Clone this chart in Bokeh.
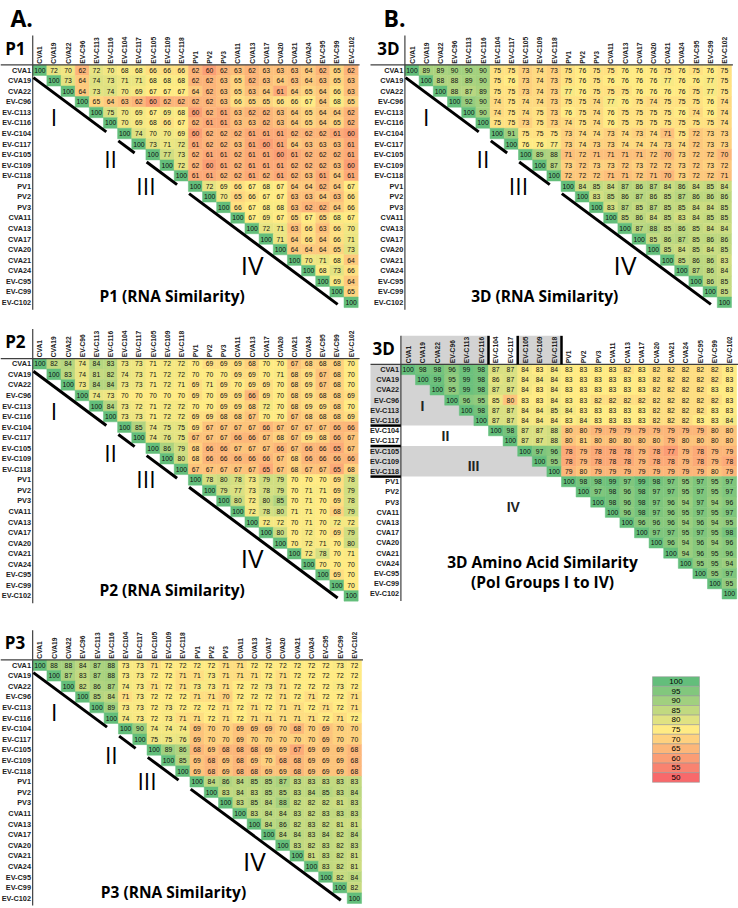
import math
import numpy as np
from bokeh.plotting import figure
from bokeh.models import Range1d
from bokeh.embed import file_html
from bokeh.resources import INLINE
from bokeh.core.properties import value

W, H = 738, 908

VIRUSES = ["CVA1", "CVA19", "CVA22", "EV-C96", "EV-C113", "EV-C116", "EV-C104", "EV-C117",
           "EV-C105", "EV-C109", "EV-C118", "PV1", "PV2", "PV3", "CVA11", "CVA13", "CVA17",
           "CVA20", "CVA21", "CVA24", "EV-C95", "EV-C99", "EV-C102"]
GROUP_NAMES = ["I", "II", "III", "IV"]
GROUP_FIRST = [0, 6, 8, 11]
GROUP_LAST = [5, 7, 10, 22]

P1_ROWS = [
    [100, 72, 70, 62, 72, 70, 68, 68, 66, 66, 66, 62, 60, 62, 63, 62, 63, 63, 63, 64, 62, 65, 62],
    [100, 73, 64, 74, 73, 71, 71, 68, 68, 68, 62, 62, 63, 65, 62, 63, 64, 63, 64, 63, 65, 63],
    [100, 64, 73, 74, 70, 69, 67, 67, 67, 64, 62, 63, 65, 63, 64, 61, 64, 65, 64, 66, 63],
    [100, 65, 64, 63, 62, 60, 62, 62, 62, 62, 63, 66, 65, 65, 66, 66, 67, 64, 68, 65],
    [100, 75, 70, 69, 67, 69, 68, 60, 62, 61, 63, 62, 62, 63, 64, 65, 64, 64, 62],
    [100, 70, 69, 68, 66, 67, 62, 61, 61, 63, 63, 62, 63, 64, 65, 64, 65, 62],
    [100, 74, 70, 70, 69, 60, 62, 62, 62, 61, 61, 61, 62, 62, 62, 61, 60],
    [100, 73, 71, 72, 61, 62, 62, 63, 61, 60, 61, 64, 63, 63, 63, 61],
    [100, 77, 73, 62, 61, 61, 62, 61, 61, 60, 61, 62, 62, 62, 61],
    [100, 72, 62, 60, 61, 62, 61, 61, 61, 62, 62, 62, 63, 60],
    [100, 61, 61, 62, 62, 61, 62, 61, 62, 63, 61, 64, 61],
    [100, 72, 69, 66, 67, 68, 67, 64, 64, 62, 64, 67],
    [100, 70, 65, 66, 67, 67, 63, 63, 64, 63, 66],
    [100, 66, 67, 68, 68, 63, 62, 62, 64, 66],
    [100, 67, 69, 67, 65, 67, 65, 68, 67],
    [100, 72, 71, 63, 66, 63, 66, 70],
    [100, 71, 64, 66, 64, 66, 71],
    [100, 64, 64, 64, 65, 73],
    [100, 70, 71, 68, 64],
    [100, 68, 73, 66],
    [100, 69, 64],
    [100, 65],
    [100],
]

D3_RNA_ROWS = [
    [100, 89, 89, 90, 90, 90, 75, 75, 73, 74, 73, 75, 76, 75, 75, 76, 76, 76, 75, 76, 75, 76, 75],
    [100, 88, 88, 89, 90, 75, 76, 73, 74, 73, 75, 76, 75, 76, 76, 76, 76, 77, 76, 76, 77, 75],
    [100, 88, 87, 89, 75, 75, 73, 74, 73, 77, 76, 75, 75, 75, 76, 76, 76, 76, 75, 77, 75],
    [100, 92, 90, 74, 75, 74, 74, 73, 75, 75, 74, 77, 76, 75, 74, 75, 75, 75, 76, 74],
    [100, 90, 74, 75, 74, 75, 73, 76, 75, 74, 76, 75, 75, 75, 75, 76, 74, 76, 74],
    [100, 75, 75, 73, 75, 73, 74, 75, 74, 76, 75, 75, 75, 75, 75, 75, 75, 74],
    [100, 91, 75, 75, 75, 73, 74, 74, 73, 74, 73, 74, 71, 75, 72, 73, 73],
    [100, 76, 76, 77, 73, 74, 73, 73, 74, 74, 74, 73, 74, 72, 73, 73],
    [100, 89, 88, 71, 72, 71, 71, 71, 71, 72, 70, 73, 72, 72, 70],
    [100, 87, 73, 72, 73, 73, 72, 73, 72, 72, 73, 72, 73, 72],
    [100, 72, 72, 72, 71, 71, 72, 71, 70, 73, 72, 72, 71],
    [100, 84, 85, 84, 87, 86, 87, 84, 86, 84, 85, 84],
    [100, 83, 85, 86, 87, 86, 85, 87, 86, 86, 86],
    [100, 83, 87, 85, 87, 85, 85, 84, 84, 85],
    [100, 85, 86, 84, 85, 83, 84, 85, 85],
    [100, 87, 88, 85, 86, 85, 84, 84],
    [100, 85, 86, 87, 85, 86, 86],
    [100, 85, 84, 85, 84, 85],
    [100, 85, 86, 86, 83],
    [100, 87, 86, 84],
    [100, 86, 85],
    [100, 85],
    [100],
]

P2_ROWS = [
    [100, 82, 84, 74, 84, 83, 73, 73, 71, 72, 72, 70, 69, 69, 69, 68, 70, 70, 67, 68, 68, 68, 70],
    [100, 83, 74, 81, 82, 74, 73, 71, 72, 72, 70, 70, 70, 69, 69, 70, 71, 68, 69, 67, 68, 70],
    [100, 73, 84, 84, 73, 73, 71, 72, 71, 69, 71, 69, 70, 69, 69, 70, 68, 69, 67, 68, 70],
    [100, 74, 73, 70, 70, 70, 70, 70, 69, 70, 69, 69, 66, 69, 70, 68, 69, 68, 68, 69],
    [100, 84, 73, 72, 71, 72, 72, 70, 70, 69, 69, 68, 72, 70, 68, 69, 69, 68, 70],
    [100, 73, 73, 71, 72, 72, 69, 69, 68, 68, 67, 70, 70, 67, 68, 68, 68, 69],
    [100, 85, 74, 75, 75, 69, 67, 67, 67, 67, 66, 67, 67, 67, 67, 66, 66],
    [100, 74, 76, 75, 67, 67, 67, 66, 66, 67, 68, 67, 69, 68, 66, 67],
    [100, 86, 79, 68, 66, 66, 67, 67, 67, 66, 67, 66, 66, 65, 67],
    [100, 80, 68, 66, 66, 66, 66, 66, 67, 68, 66, 66, 66, 66],
    [100, 67, 67, 67, 67, 67, 65, 67, 68, 67, 67, 65, 68],
    [100, 78, 80, 78, 73, 79, 79, 70, 70, 70, 69, 78],
    [100, 79, 77, 73, 78, 79, 70, 71, 71, 69, 79],
    [100, 80, 72, 80, 85, 70, 71, 70, 69, 78],
    [100, 72, 78, 80, 71, 71, 70, 68, 79],
    [100, 72, 72, 70, 71, 70, 72, 72],
    [100, 80, 70, 72, 70, 69, 79],
    [100, 70, 72, 71, 70, 80],
    [100, 72, 78, 70, 71],
    [100, 70, 70, 70],
    [100, 69, 70],
    [100, 70],
    [100],
]

D3_AA_ROWS = [
    [100, 98, 98, 96, 99, 98, 87, 87, 84, 83, 84, 83, 83, 83, 83, 82, 83, 82, 82, 82, 82, 82, 83],
    [100, 99, 95, 99, 98, 86, 87, 84, 84, 84, 83, 83, 83, 83, 83, 83, 82, 82, 82, 82, 82, 83],
    [100, 95, 99, 98, 87, 87, 84, 83, 84, 83, 83, 83, 83, 83, 83, 82, 82, 82, 82, 83, 83],
    [100, 96, 95, 85, 80, 83, 83, 84, 83, 83, 82, 82, 82, 82, 82, 82, 82, 82, 82, 83],
    [100, 98, 87, 87, 84, 84, 85, 84, 83, 83, 83, 83, 83, 82, 82, 82, 82, 83, 83],
    [100, 87, 87, 84, 84, 84, 83, 84, 83, 83, 83, 83, 82, 82, 82, 83, 83, 84],
    [100, 98, 87, 87, 88, 80, 80, 79, 79, 79, 79, 79, 79, 79, 79, 80, 80],
    [100, 87, 87, 88, 80, 81, 80, 80, 80, 80, 80, 79, 80, 80, 80, 80],
    [100, 97, 96, 78, 79, 78, 78, 78, 79, 78, 77, 79, 78, 79, 79],
    [100, 95, 78, 79, 78, 78, 78, 79, 78, 78, 79, 78, 79, 78],
    [100, 79, 80, 79, 79, 79, 79, 79, 79, 79, 79, 80, 79],
    [100, 98, 98, 99, 97, 99, 98, 97, 95, 97, 95, 97],
    [100, 97, 98, 96, 98, 97, 97, 95, 97, 95, 97],
    [100, 98, 96, 98, 97, 96, 94, 97, 94, 96],
    [100, 96, 98, 97, 96, 95, 97, 95, 97],
    [100, 96, 96, 96, 94, 96, 94, 95],
    [100, 97, 97, 95, 97, 95, 98],
    [100, 96, 94, 96, 94, 96],
    [100, 94, 96, 95, 96],
    [100, 95, 95, 94],
    [100, 95, 97],
    [100, 95],
    [100],
]

P3_ROWS = [
    [100, 88, 88, 84, 87, 88, 73, 73, 71, 72, 72, 72, 72, 71, 71, 72, 72, 72, 72, 72, 72, 73, 72],
    [100, 87, 83, 87, 88, 73, 73, 72, 72, 71, 71, 73, 71, 71, 71, 72, 71, 72, 72, 72, 72, 72],
    [100, 82, 86, 87, 74, 73, 71, 72, 71, 73, 73, 71, 72, 72, 73, 71, 72, 72, 72, 73, 72],
    [100, 85, 84, 71, 73, 72, 72, 72, 71, 71, 70, 72, 72, 72, 71, 72, 71, 72, 72, 71],
    [100, 89, 73, 73, 72, 73, 72, 72, 72, 71, 72, 71, 72, 71, 71, 72, 71, 72, 71],
    [100, 74, 73, 72, 73, 71, 71, 72, 71, 72, 71, 71, 71, 71, 71, 72, 71, 72],
    [100, 90, 74, 74, 74, 69, 70, 70, 69, 69, 69, 70, 68, 70, 69, 70, 70],
    [100, 75, 75, 76, 69, 70, 70, 69, 70, 70, 70, 70, 70, 69, 70, 70],
    [100, 89, 86, 68, 69, 68, 68, 68, 69, 69, 67, 69, 69, 69, 68],
    [100, 85, 69, 68, 69, 68, 69, 70, 68, 68, 69, 69, 69, 68],
    [100, 69, 68, 69, 68, 68, 69, 69, 68, 69, 69, 69, 68],
    [100, 84, 86, 84, 85, 85, 87, 83, 83, 83, 83, 83],
    [100, 83, 84, 83, 85, 85, 83, 84, 85, 83, 84],
    [100, 83, 85, 84, 88, 82, 82, 82, 81, 83],
    [100, 83, 84, 84, 83, 82, 83, 83, 83],
    [100, 84, 86, 82, 83, 82, 81, 81],
    [100, 84, 84, 83, 84, 82, 84],
    [100, 83, 82, 83, 82, 83],
    [100, 81, 83, 82, 81],
    [100, 83, 82, 81],
    [100, 82, 84],
    [100, 82],
    [100],
]

LEGEND_VALUES = [100, 95, 90, 85, 80, 75, 70, 65, 60, 55, 50]

# ---------------- styling ----------------
RED = np.array([248, 105, 107])
YELLOW = np.array([255, 235, 132])
GREEN = np.array([99, 190, 123])
GREY = "#d3d3d3"
LINE_GREY = "#404040"
LABEL_FONT = value("Liberation Sans")
TITLE_FONT = value("Open Sans")


def scale_color(v, lo, mid, hi):
    if v <= mid:
        t = min(max((v - lo) / (mid - lo), 0.0), 1.0)
        c = RED + t * (YELLOW - RED)
    else:
        t = min(max((v - mid) / (hi - mid), 0.0), 1.0)
        c = YELLOW + t * (GREEN - YELLOW)
    return "#%02x%02x%02x" % tuple(int(round(x)) for x in c)


PANELS = [
    dict(key="p1", rows=P1_ROWS, label="P1", titles=["P1 (RNA Similarity)"], kind="rna",
         x0=39.3, cw=14.15, y0=69.7, rh=10.55, scale=(55, 67, 100), left=0),
    dict(key="d3r", rows=D3_RNA_ROWS, label="3D", titles=["3D (RNA Similarity)"], kind="rna",
         x0=411.5, cw=14.2, y0=69.7, rh=10.55, scale=(61, 76, 100), left=370),
    dict(key="p2", rows=P2_ROWS, label="P2", titles=["P2 (RNA Similarity)"], kind="rna",
         x0=39.3, cw=14.15, y0=363.3, rh=10.55, scale=(60, 70, 100), left=0),
    dict(key="d3a", rows=D3_AA_ROWS, label="3D",
         titles=["3D Amino Acid Similarity", "(Pol Groups I to IV)"], kind="aa",
         x0=407.7, cw=14.6, y0=369.0, rh=10.2, scale=(73, 83, 100), left=370),
    dict(key="p3", rows=P3_ROWS, label="P3", titles=["P3 (RNA Similarity)"], kind="rna",
         x0=39.3, cw=14.3, y0=664.7, rh=10.59, scale=(62, 72, 100), left=0),
]
AA_NUMERAL_POS = [(0.98, 3.56), (2.55, 6.5), (4.47, 9.5), (7.2, 13.5)]

p = figure(width=W, height=H, x_range=Range1d(0, W), y_range=Range1d(H, 0),
           x_axis_type=None, y_axis_type=None, toolbar_location=None,
           output_backend="svg", min_border=0, outline_line_color=None)
p.background_fill_color = "white"
p.border_fill_color = "white"

extra_x, extra_y = {}, {}
for cfg in PANELS:
    extra_x[cfg["key"] + "x"] = Range1d(-cfg["x0"] / cfg["cw"], (W - cfg["x0"]) / cfg["cw"])
    extra_y[cfg["key"] + "y"] = Range1d((H - cfg["y0"]) / cfg["rh"], -cfg["y0"] / cfg["rh"])
# legend scale
LEG_X0, LEG_CW, LEG_Y0, LEG_RH = 675.5, 47.0, 681.0, 9.6
extra_x["legx"] = Range1d(-LEG_X0 / LEG_CW, (W - LEG_X0) / LEG_CW)
extra_y["legy"] = Range1d((H - LEG_Y0) / LEG_RH, -LEG_Y0 / LEG_RH)
p.extra_x_ranges = extra_x
p.extra_y_ranges = extra_y

n = len(VIRUSES)
HDR_TOP = -3.3

for cfg in PANELS:
    kw = dict(x_range_name=cfg["key"] + "x", y_range_name=cfg["key"] + "y")
    lo, mid, hi = cfg["scale"]
    xl = (cfg["left"] - cfg["x0"]) / cfg["cw"]
    rows = cfg["rows"]
    assert len(rows) == n and all(len(r) == n - i for i, r in enumerate(rows))

    # grey shading for amino-acid panel
    if cfg["kind"] == "aa":
        for g in (0, 2):
            a, b = GROUP_FIRST[g], GROUP_LAST[g]
            p.quad(left=[xl], right=[b + 0.5], top=[a - 0.5], bottom=[b + 0.5],
                   fill_color=GREY, line_color=None, **kw)
            p.quad(left=[a - 0.5], right=[b + 0.5], top=[HDR_TOP], bottom=[-0.5],
                   fill_color=GREY, line_color=None, **kw)

    xs, ys, vals, cols = [], [], [], []
    for i, r in enumerate(rows):
        for k, v in enumerate(r):
            xs.append(i + k)
            ys.append(i)
            vals.append(str(v))
            cols.append(scale_color(v, lo, mid, hi))
    p.rect(x=xs, y=ys, width=1, height=1, fill_color=cols, line_color=cols,
           line_width=0.5, **kw)
    p.text(x=xs, y=ys, text=vals, text_font=LABEL_FONT, text_font_size="6.8px",
           text_align="center", text_baseline="middle", text_color="#111111", **kw)

    # row labels
    p.text(x=[-0.62] * n, y=list(range(n)), text=VIRUSES, text_font=LABEL_FONT,
           text_font_size="7.3px", text_font_style="bold", text_align="right",
           text_baseline="middle", text_color="#222222", **kw)
    # column labels (vertical)
    p.text(x=list(range(n)), y=[-0.62] * n, text=VIRUSES, text_font=LABEL_FONT,
           text_font_size="6.7px", text_font_style="bold", text_align="left",
           text_baseline="middle", angle=math.pi / 2, text_color="#222222", **kw)

    # header / axis lines
    p.segment(x0=[xl], y0=[-0.5], x1=[n - 0.4], y1=[-0.5], line_color=LINE_GREY,
              line_width=1.2, **kw)
    p.segment(x0=[-0.5], y0=[HDR_TOP], x1=[-0.5], y1=[n - 0.3], line_color=LINE_GREY,
              line_width=1.2, **kw)

    # panel label
    p.text(x=[-2.45], y=[-2.1], text=[cfg["label"]], text_font=TITLE_FONT,
           text_font_size="17px", text_font_style="bold", text_align="left",
           text_baseline="middle", text_color="black", **kw)

    if cfg["kind"] == "rna":
        # diagonal group separators
        x0s, y0s, x1s, y1s = [], [], [], []
        for g in range(len(GROUP_NAMES)):
            a, b = GROUP_FIRST[g], GROUP_LAST[g]
            s = a - 0.45
            e = b - 0.3 if g < len(GROUP_NAMES) - 1 else b - 0.95
            x0s.append(s); y0s.append(s + 1.15); x1s.append(e); y1s.append(e + 1.15)
        p.segment(x0=x0s, y0=y0s, x1=x1s, y1=y1s, line_color="black", line_width=3,
                  **kw)
        # roman numerals
        nx = [(a + b) / 2 - 1.5 for a, b in zip(GROUP_FIRST, GROUP_LAST)]
        ny = [x + 3.45 for x in nx]
        sizes = ["23px", "23px", "23px", "26px"]
        for g in range(len(GROUP_NAMES)):
            p.text(x=[nx[g]], y=[ny[g]], text=[GROUP_NAMES[g]], text_font=TITLE_FONT,
                   text_font_size=sizes[g], text_align="center", text_baseline="middle",
                   text_color="black", **kw)
        p.text(x=[9.35], y=[21.45], text=cfg["titles"], text_font=TITLE_FONT,
               text_font_size="15.5px", text_font_style="bold", text_align="center",
               text_baseline="middle", text_color="black", **kw)
    else:
        # group boxes in header and label column
        bx = [GROUP_LAST[g] + 0.5 for g in range(3)]
        p.segment(x0=bx, y0=[HDR_TOP] * 3, x1=bx, y1=[-0.5] * 3, line_color="black",
                  line_width=2.5, **kw)
        p.segment(x0=[xl] * 3, y0=bx, x1=[-0.5] * 3, y1=bx, line_color="black",
                  line_width=2.5, **kw)
        p.text(x=[q[0] for q in AA_NUMERAL_POS], y=[q[1] for q in AA_NUMERAL_POS],
               text=GROUP_NAMES, text_font=LABEL_FONT, text_font_size="14px",
               text_font_style="bold", text_align="center", text_baseline="middle",
               text_color="#222222", **kw)
        p.text(x=[9.2, 9.2], y=[18.9, 20.8], text=cfg["titles"], text_font=TITLE_FONT,
               text_font_size="15.5px", text_font_style="bold", text_align="center",
               text_baseline="middle", text_color="black", **kw)

# section letters
p.text(x=[10, 383], y=[17, 17], text=["A.", "B."], text_font=TITLE_FONT,
       text_font_size="23px", text_font_style="bold", text_align="left",
       text_baseline="middle", text_color="black")

# colour legend
lk = dict(x_range_name="legx", y_range_name="legy")
ly = list(range(len(LEGEND_VALUES)))
lcols = [scale_color(v, 50, 75, 100) for v in LEGEND_VALUES]
p.rect(x=[0] * len(ly), y=ly, width=1, height=1, fill_color=lcols, line_color="#9a9a9a",
       line_width=0.6, **lk)
p.text(x=[0] * len(ly), y=ly, text=[str(v) for v in LEGEND_VALUES], text_font=LABEL_FONT,
       text_font_size="8px", text_align="center", text_baseline="middle",
       text_color="black", **lk)

open("out.html", "w").write(file_html(p, INLINE))
